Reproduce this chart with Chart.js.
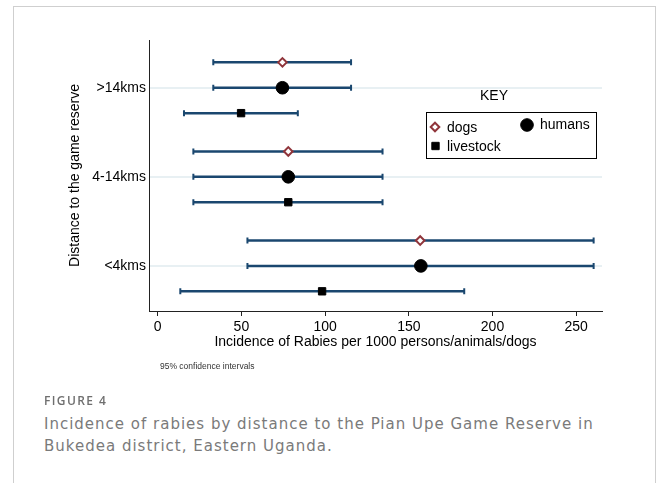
<!DOCTYPE html>
<html>
<head>
<meta charset="utf-8">
<script src="https://cdn.jsdelivr.net/npm/chart.js@4"></script>
<style>
  html, body { margin: 0; padding: 0; background: #fff; }
  body { width: 656px; height: 483px; position: relative; overflow: hidden; }
  #card { position: absolute; left: 13px; top: 6px; width: 641px; height: 520px; border: 1px solid #cfcfcf; }
  #wrap { position: absolute; left: 0; top: 0; width: 656px; height: 380px; }
  #note { position: absolute; left: 160px; top: 361px; font: 8.5px "Liberation Sans", Arial, sans-serif; color: #333; }
  #figno { position: absolute; left: 44px; top: 392px; font: 600 12px "Open Sans", sans-serif; letter-spacing: 1.4px; color: #6f6f6f; }
  #caption { position: absolute; left: 44px; top: 413px; font: 15px/22px "DejaVu Sans", sans-serif; letter-spacing: 1px; color: #7a7a7a; }
</style>
</head>
<body>
<div id="card"></div>
<div id="wrap"><canvas id="rabiesChart" width="656" height="380"></canvas></div>
<div id="note">95% confidence intervals</div>
<div id="figno">FIGURE 4</div>
<div id="caption">Incidence of rabies by distance to the Pian Upe Game Reserve in<br>Bukedea district, Eastern Uganda.</div>
<script>
// Distance groups, bottom to top
const groups = ['<4kms', '4-14kms', '>14kms'];
const seriesNames = ['dogs', 'humans', 'livestock'];

// Incidence per 1000 with 95% CI, same order as groups
const dogsRate = [156.8, 78.0, 74.5];
const dogsLow = [53.6, 21.3, 33.2];
const dogsHigh = [260.4, 134.3, 115.5];

const humansRate = [157.2, 78.0, 74.5];
const humansLow = [53.6, 21.3, 33.2];
const humansHigh = [260.4, 134.3, 115.5];

const livestockRate = [98.2, 78.0, 49.8];
const livestockLow = [13.5, 21.3, 15.7];
const livestockHigh = [183.1, 134.3, 83.7];

const xTicks = [0, 50, 100, 150, 200, 250];

const FONT = '"Liberation Sans", Arial, sans-serif';

// build points; each series sits a little above/below the group line
function points(rate, low, high, shift) {
    return rate.map((v, i) => ({ x: v, y: i + 1 + shift, lo: low[i], hi: high[i] }));
}

// draw the CI lines with caps under the markers
const errorBars = {
    id: 'errorBars',
    beforeDatasetsDraw(chart) {
        const { ctx, scales: { x, y } } = chart;
        ctx.save();
        ctx.strokeStyle = '#1a476f';
        chart.data.datasets.forEach(ds => {
            ds.data.forEach(p => {
                const py = y.getPixelForValue(p.y);
                const x0 = x.getPixelForValue(p.lo);
                const x1 = x.getPixelForValue(p.hi);
                ctx.lineWidth = 2.5;
                ctx.beginPath();
                ctx.moveTo(x0, py);
                ctx.lineTo(x1, py);
                ctx.stroke();
                ctx.lineWidth = 2;
                ctx.beginPath();
                ctx.moveTo(x0, py - 3); ctx.lineTo(x0, py + 3);
                ctx.moveTo(x1, py - 3); ctx.lineTo(x1, py + 3);
                ctx.stroke();
            });
        });
        ctx.restore();
    }
};

// Stata style "KEY" box inside the plot
const keyBox = {
    id: 'keyBox',
    afterDraw(chart) {
        const { ctx } = chart;
        const ds = chart.data.datasets;
        ctx.save();
        ctx.font = '14px ' + FONT;
        ctx.fillStyle = '#000';
        ctx.textBaseline = 'middle';
        ctx.textAlign = 'center';
        ctx.fillText('KEY', 494, 96);
        ctx.strokeStyle = '#000';
        ctx.lineWidth = 1;
        ctx.strokeRect(426.5, 112.5, 170, 46);
        const spots = [[435, 127, 447, 128], [527, 125, 540, 125], [435.5, 146, 447, 147]];
        ctx.textAlign = 'left';
        ds.forEach((d, i) => {
            const s = spots[i];
            ctx.fillStyle = d.pointBackgroundColor;
            ctx.strokeStyle = d.pointBorderColor;
            ctx.lineWidth = d.pointBorderWidth;
            Chart.helpers.drawPoint(ctx, { pointStyle: d.pointStyle, radius: d.pointRadius, borderWidth: d.pointBorderWidth, rotation: 0 }, s[0], s[1]);
            ctx.fillStyle = '#000';
            ctx.fillText(d.label, s[2], s[3]);
        });
        ctx.restore();
    }
};

new Chart(document.getElementById('rabiesChart').getContext('2d'), {
    type: 'scatter',
    data: {
        datasets: [
            {
                label: seriesNames[0],
                data: points(dogsRate, dogsLow, dogsHigh, 0.285),
                pointStyle: 'rectRot',
                pointRadius: 4.3,
                pointBorderWidth: 2,
                pointBackgroundColor: '#ffffff',
                pointBorderColor: '#90353b'
            },
            {
                label: seriesNames[1],
                data: points(humansRate, humansLow, humansHigh, 0),
                pointStyle: 'circle',
                pointRadius: 6.3,
                pointBorderWidth: 1,
                pointBackgroundColor: '#000000',
                pointBorderColor: '#000000'
            },
            {
                label: seriesNames[2],
                data: points(livestockRate, livestockLow, livestockHigh, -0.285),
                pointStyle: 'rect',
                pointRadius: 5.2,
                pointBorderWidth: 1,
                pointBackgroundColor: '#000000',
                pointBorderColor: '#000000'
            }
        ]
    },
    options: {
        responsive: false,
        animation: false,
        layout: { padding: { top: 40, right: 54, bottom: 0, left: 0 } },
        plugins: {
            legend: { display: false },
            tooltip: { enabled: false }
        },
        scales: {
            x: {
                type: 'linear',
                min: -5.2,
                max: 265.4,
                afterBuildTicks: s => { s.ticks = xTicks.map(v => ({ value: v })); },
                afterFit: s => { s.height = 69; },
                border: { display: true, color: '#222', width: 1 },
                grid: { drawOnChartArea: false, drawTicks: true, tickLength: 5, color: '#222' },
                ticks: { color: '#000', padding: 3, font: { family: FONT, size: 14 }, maxRotation: 0 },
                title: {
                    display: true,
                    text: 'Incidence of Rabies per 1000 persons/animals/dogs',
                    color: '#000',
                    font: { family: FONT, size: 14 },
                    padding: { top: 0, bottom: 29 }
                }
            },
            y: {
                type: 'linear',
                min: 0.494,
                max: 3.536,
                afterBuildTicks: s => { s.ticks = groups.map((g, i) => ({ value: i + 1 })); },
                afterFit: s => { s.width = 149; },
                border: { display: true, color: '#222', width: 1 },
                grid: { drawTicks: false, color: '#e8f0f3', lineWidth: 2 },
                ticks: {
                    color: '#000',
                    padding: 3,
                    font: { family: FONT, size: 14 },
                    callback: v => groups[v - 1]
                },
                title: {
                    display: true,
                    text: 'Distance to the game reserve',
                    color: '#000',
                    font: { family: FONT, size: 14 },
                    padding: { top: 67, bottom: 0 }
                }
            }
        }
    },
    plugins: [errorBars, keyBox]
});
</script>
</body>
</html>
